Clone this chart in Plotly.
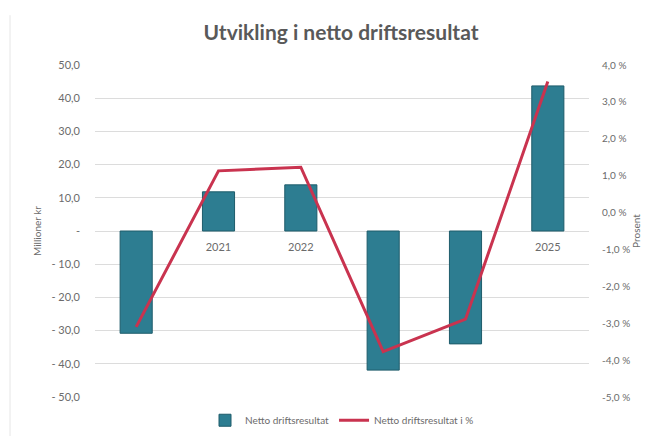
import plotly.graph_objects as go

# Netto driftsresultat per år (mill. kr) og i prosent av driftsinntekter
years = ["2020", "2021", "2022", "2023", "2024", "2025"]
netto_mill = [-30.8, 11.8, 13.9, -41.9, -34.0, 43.7]
netto_pct = [-3.1, 1.13, 1.23, -3.77, -2.89, 3.55]

left_ticks = [50, 40, 30, 20, 10, 0, -10, -20, -30, -40, -50]
left_labels = ["50,0", "40,0", "30,0", "20,0", "10,0", "-",
               "- 10,0", "- 20,0", "- 30,0", "- 40,0", "- 50,0"]
right_ticks = [4, 3, 2, 1, 0, -1, -2, -3, -4, -5]
right_labels = ["4,0 %", "3,0 %", "2,0 %", "1,0 %", "0,0 %",
                "-1,0 %", "-2,0 %", "-3,0 %", "-4,0 %", "-5,0 %"]

GREY = "#6b6b6b"
FONT = "Lato"

fig = go.Figure()
fig.add_trace(go.Bar(
    x=years, y=netto_mill, name="Netto driftsresultat",
    marker=dict(color="#2D7D91", line=dict(color="#1E5C6B", width=1)),
    yaxis="y",
))
fig.add_trace(go.Scatter(
    x=years, y=netto_pct, name="Netto driftsresultat i %",
    mode="lines", line=dict(color="#C9334F", width=3),
    yaxis="y2",
))

fig.update_layout(
    width=655, height=436,
    margin=dict(l=95, r=66, t=65, b=39, autoexpand=False),
    paper_bgcolor="white", plot_bgcolor="white",
    font=dict(family=FONT, color=GREY, size=11),
    title=dict(text="<b>Utvikling i netto driftsresultat</b>",
               x=341 / 655, xanchor="center", y=1 - 33 / 436, yanchor="middle",
               font=dict(family=FONT, size=21, color="#595959")),
    bargap=0.61,
    showlegend=True,
    legend=dict(orientation="h", x=0.5, xanchor="center", y=-0.07, yanchor="middle",
                font=dict(size=10, color=GREY), itemwidth=30, tracegroupgap=0),
    xaxis=dict(type="category", anchor="free", position=0.5, layer="below traces",
               showgrid=False, showline=False, ticks="", ticklabelstandoff=8,
               tickfont=dict(size=11, color=GREY)),
    yaxis=dict(range=[-50, 50], tickvals=left_ticks, ticktext=left_labels,
               showgrid=True, gridcolor="#dcdcdc", gridwidth=1, zeroline=False,
               showline=False, ticks="", ticklabelstandoff=14,
               tickfont=dict(size=11, color=GREY),
               title=dict(text="Millioner kr", standoff=7,
                          font=dict(size=10, color=GREY))),
    yaxis2=dict(range=[-5, 4], overlaying="y", side="right",
                tickvals=right_ticks, ticktext=right_labels,
                showgrid=False, zeroline=False, showline=False, ticks="",
                ticklabelstandoff=12, tickfont=dict(size=10, color=GREY),
                title=dict(text="Prosent", standoff=2,
                           font=dict(size=10, color=GREY))),
    shapes=[dict(type="line", xref="paper", yref="paper",
                 x0=-85 / 494, x1=-85 / 494, y0=-0.12, y1=1.15,
                 line=dict(color="#e6e6e6", width=1))],
)

fig.write_html("out.html")
